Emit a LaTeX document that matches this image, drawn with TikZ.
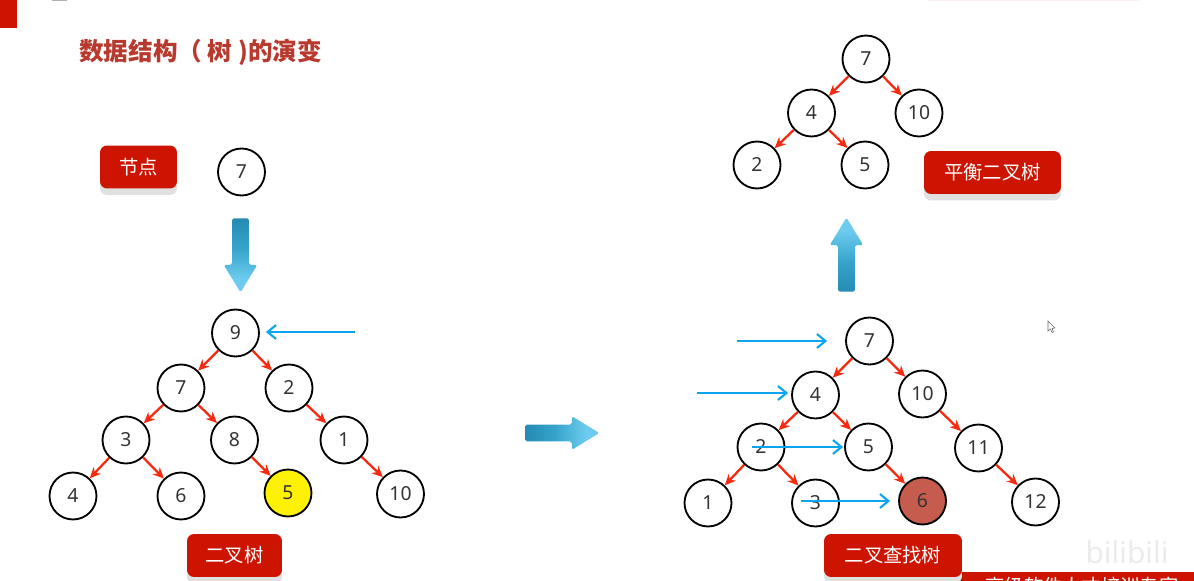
\documentclass[tikz,border=0pt]{standalone}
\usepackage{fontspec}
\setmainfont{Noto Sans}
\newfontfamily\cjk{Noto Sans CJK SC}
\usepackage{tikz}
\usetikzlibrary{arrows.meta, shapes.arrows, shadows}
\definecolor{slidered}{HTML}{CC1400}
\definecolor{titlered}{HTML}{B8392E}
\definecolor{linkred}{HTML}{F52A10}
\definecolor{hintblue}{HTML}{0AA5EE}
\definecolor{arrdark}{HTML}{1C7FA6}
\definecolor{arrmid}{HTML}{36A3CB}
\definecolor{arrlight}{HTML}{6CCBEE}
\definecolor{brick}{HTML}{C65C4E}
\pgfdeclarehorizontalshading{bigarrow}{100bp}{
  color(0bp)=(arrdark); color(15bp)=(arrdark);
  color(45bp)=(arrmid); color(66bp)=(arrlight);
  color(100bp)=(arrlight)}
\begin{document}
\begin{tikzpicture}[
  x=0.02cm, y=-0.02cm,
  font=\fontsize{11pt}{13pt}\selectfont,
  tnode/.style={circle, draw=black, line width=1.05pt, minimum size=0.94cm, inner sep=0pt,
                text=black!80, fill=white},
  lbl/.style={rectangle, rounded corners=4pt, fill=slidered, text=white, inner sep=0pt,
              font=\cjk\fontsize{11pt}{13pt}\selectfont, minimum height=0.86cm,
              general shadow={fill=black!12, shadow yshift=-0.13cm}},
  link/.style={-{Stealth[length=2.2mm, width=2mm]}, line width=1.3pt, linkred},
  hint/.style={-{Straight Barb[length=1.7mm, width=2.8mm]}, line width=1.2pt, hintblue},
  bigarr/.style={single arrow, shading=bigarrow, draw=none, minimum height=1.48cm,
                 minimum width=0.66cm, single arrow head extend=0.17cm, inner xsep=0pt,
                 inner ysep=0.16cm, single arrow tip angle=63, rounded corners=1pt},
  ]
  \useasboundingbox (0,0) rectangle (1194,581);

  %% Slide furniture: corner tab, title, footer
  \fill[slidered] (0,0) rectangle (17,28);
  \fill[black!30] (52,0) rectangle (67,1);
  \fill[red!6] (928,0) rectangle (1140,1);
  \node[text=titlered, font=\cjk\bfseries\fontsize{14pt}{16pt}\selectfont, anchor=west, inner sep=0pt]
        (title) at (79,52) {数据结构（ 树 )的演变};
  \fill[slidered] (962,572) rectangle (1194,581);
  \fill[slidered!50!black] (952,581) -- (962,572) -- (962,581) -- cycle;
  \node[text=white, font=\cjk\fontsize{11pt}{13pt}\selectfont, anchor=west, inner sep=0pt]
        (footer) at (985,586) {高级软件人才培训专家};
  \node[text=black!8, font=\bfseries\fontsize{17pt}{19pt}\selectfont, inner sep=0pt]
        (wmark) at (1127,552) {bilibili};

  %% Single node and the plain binary tree
  \node[lbl, minimum width=1.54cm] (lnode) at (138.5,167) {\raisebox{1pt}{节点}};
  \node[tnode] (s7) at (241.5,172) {7};
  \node[bigarr, rotate=-90, shading angle=-90] (adown) at (240.5,248.5) {};

  \node[tnode] (a9)  at (235.5,333) {9};
  \node[tnode] (a7)  at (181,388) {7};
  \node[tnode] (a2)  at (289,388) {2};
  \node[tnode] (a3)  at (126,440) {3};
  \node[tnode] (a8)  at (234.5,440) {8};
  \node[tnode] (a1)  at (344,440) {1};
  \node[tnode] (a4)  at (73,496)  {4};
  \node[tnode] (a6)  at (181,496) {6};
  \node[tnode, fill=yellow] (a5) at (288,493) {5};
  \node[tnode] (a10) at (400.5,494) {10};
  \node[lbl, minimum width=1.9cm] (lbin) at (234.5,555.5) {二叉树};

  \draw[link] (a9) -- (a7);
  \draw[link] (a9) -- (a2);
  \draw[link] (a7) -- (a3);
  \draw[link] (a7) -- (a8);
  \draw[link] (a2) -- (a1);
  \draw[link] (a3) -- (a4);
  \draw[link] (a3) -- (a6);
  \draw[link] (a8) -- (a5);
  \draw[link] (a1) -- (a10);

  \coordinate (ma9) at (355,332);
  \draw[hint, shorten >=0.12cm] (ma9) -- (a9.east |- ma9);

  %% Arrow across to the search tree
  \node[bigarr] (aright) at (555.5,433) {};

  %% Binary search tree
  \node[tnode] (b7)  at (869.5,341) {7};
  \node[tnode] (b4)  at (815.5,395) {4};
  \node[tnode] (b10) at (922.5,394) {10};
  \node[tnode] (b2)  at (761,447) {2};
  \node[tnode] (b5)  at (868.5,447) {5};
  \node[tnode] (b11) at (978.5,448) {11};
  \node[tnode] (b1)  at (708,503) {1};
  \node[tnode] (b3)  at (815.5,503) {3};
  \node[tnode, fill=brick] (b6) at (922.5,501) {6};
  \node[tnode] (b12) at (1035.5,502) {12};
  \node[lbl, minimum width=2.76cm] (lsearch) at (893,555.5) {二叉查找树};

  \draw[link] (b7) -- (b4);
  \draw[link] (b7) -- (b10);
  \draw[link] (b4) -- (b2);
  \draw[link] (b4) -- (b5);
  \draw[link] (b10) -- (b11);
  \draw[link] (b2) -- (b1);
  \draw[link] (b2) -- (b3);
  \draw[link] (b5) -- (b6);
  \draw[link] (b11) -- (b12);

  % search path, drawn over the nodes
  \coordinate (mb7) at (737,341);
  \coordinate (mb4) at (697,393);
  \coordinate (mb2) at (752,447);
  \coordinate (mb3) at (801,501);
  \draw[hint, shorten >=0.36cm] (mb7) -- (b7.west);
  \draw[hint, shorten >=0.06cm] (mb4) -- (b4.west |- mb4);
  \draw[hint, shorten >=0.02cm] (mb2) -- (b5.west);
  \draw[hint, shorten >=0.16cm] (mb3) -- (b6.west);

  %% Arrow up to the balanced tree
  \node[bigarr, rotate=90, shading angle=90] (aup) at (846.5,261.5) {};

  %% Balanced binary tree
  \node[tnode] (c7)  at (866,59)  {7};
  \node[tnode] (c4)  at (811.5,113) {4};
  \node[tnode] (c10) at (919,113) {10};
  \node[tnode] (c2)  at (757,165) {2};
  \node[tnode] (c5)  at (865,165) {5};
  \node[lbl, minimum width=2.74cm] (lbal) at (992.5,172.5) {平衡二叉树};

  \draw[link] (c7) -- (c4);
  \draw[link] (c7) -- (c10);
  \draw[link] (c4) -- (c2);
  \draw[link] (c4) -- (c5);

  %% Mouse pointer
  \draw[black!60, fill=white, line width=0.3pt] (1048,321) -- (1048,331) -- (1050.5,329) -- (1052,332.5)
        -- (1053.5,331.8) -- (1052,328.5) -- (1055,328) -- cycle;
\end{tikzpicture}
\end{document}
